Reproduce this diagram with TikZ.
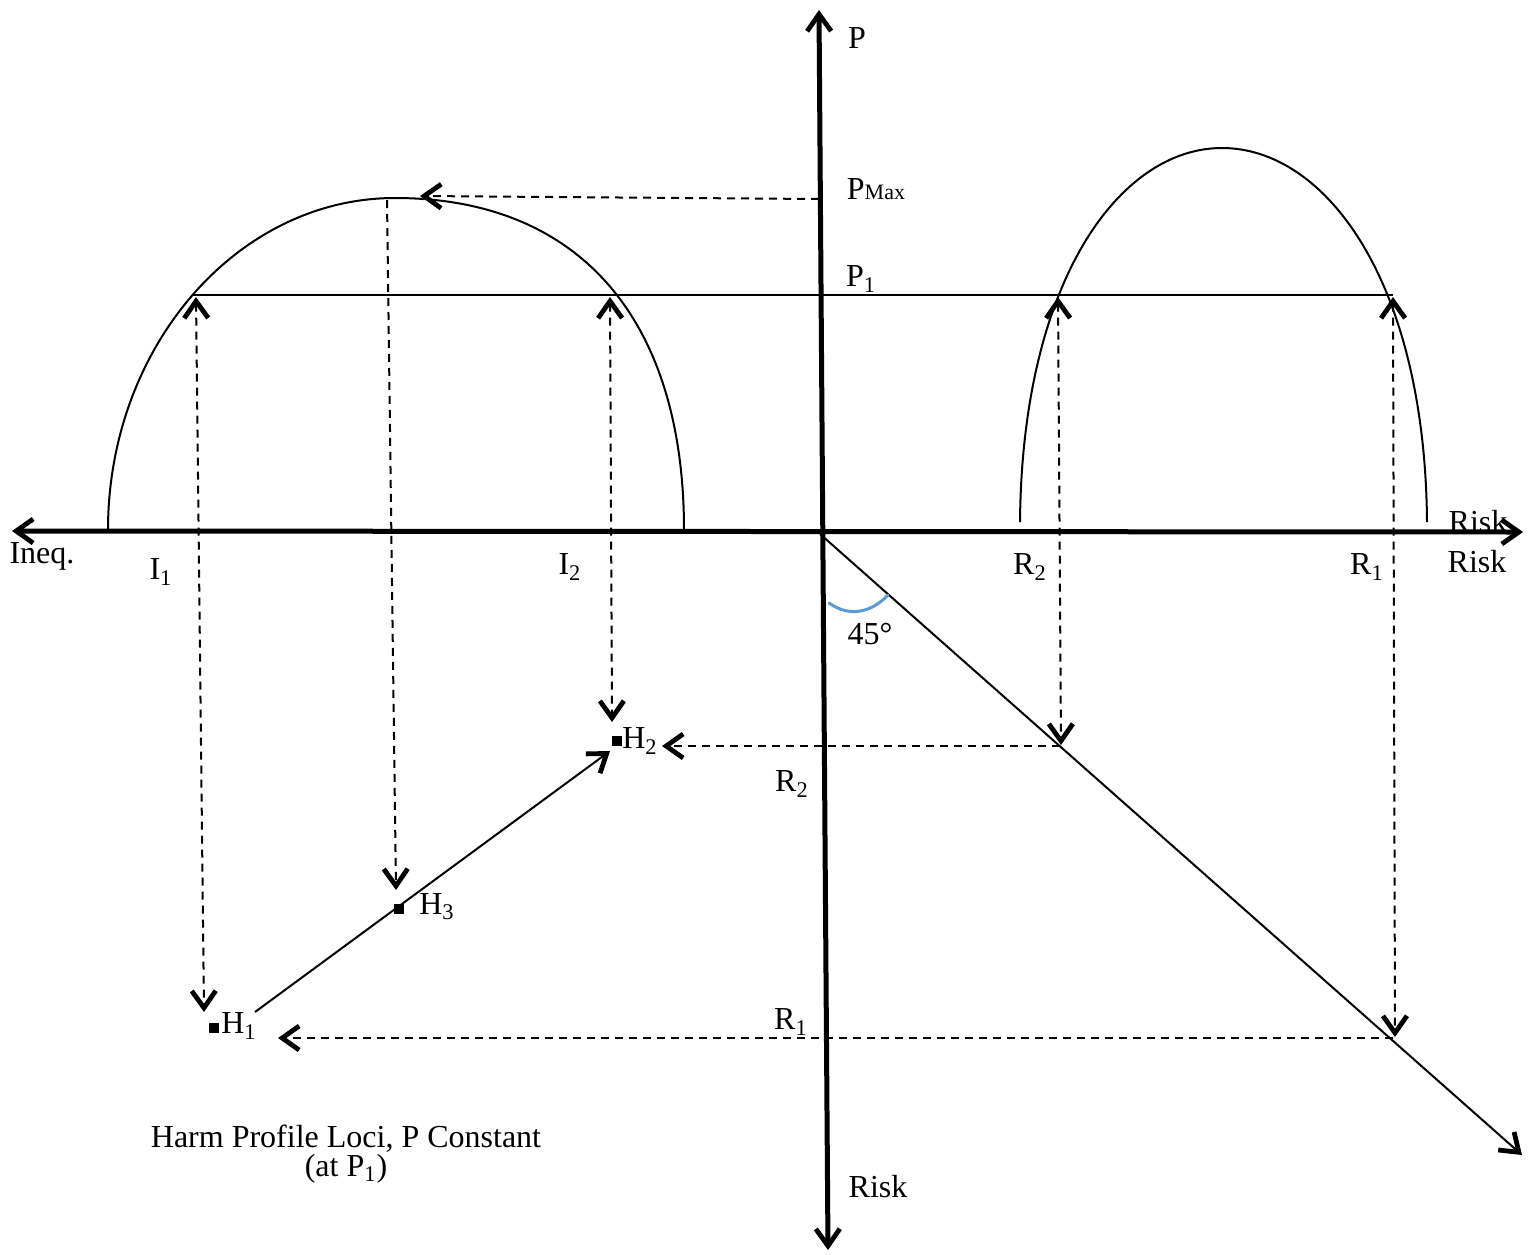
\documentclass[tikz,border=0pt]{standalone}
\usepackage{fontspec}
\setmainfont{Liberation Serif}
\usetikzlibrary{arrows.meta}
\definecolor{AngleBlue}{RGB}{91,155,213}

\begin{document}
\begin{tikzpicture}[x=.5pt,y=.5pt,
  >={Straight Barb[length=8.5pt,width=12pt,line width=2.4pt]},
  every node/.style={font=\fontsize{16}{19}\selectfont,inner sep=0pt},
  axisline/.style={line width=2.5pt,<->},
  curve/.style={line width=1pt},
  guide/.style={line width=1pt,dash pattern=on 4pt off 3pt},
  locus/.style={fill=black,minimum size=5pt,inner sep=0pt}]
  \useasboundingbox (0,0) rectangle (1536,-1254);
  % label hidden under the risk axis
  \node (riskhid) at (1478,-522) {Risk};
  % axes
  \coordinate (ptop) at (819,-10);
  \coordinate (pbot) at (828,-1250);
  \coordinate (ineqend) at (12,-531);
  \coordinate (riskend) at (1523,-532);
  \coordinate (o) at (820,-534);
  \coordinate (diagend) at (1522,-1155);
  \draw[axisline] (pbot) -- (ptop);
  \draw[axisline] (ineqend) -- (riskend);
  \draw[curve,->] (o) -- (diagend);
  \draw[AngleBlue,line width=1.5pt,line cap=round] (829,-603) .. controls (850,-618) and (872,-612) .. (888,-595);
  % profile curves
  \draw[curve] (108,-530) .. controls (108,-347) and (237,-198) .. (395,-198)
    .. controls (580,-198) and (684,-320) .. (684,-530);
  \draw[curve] (1020,-522) .. controls (1022,-280) and (1120,-148) .. (1222,-148)
    .. controls (1325,-148) and (1425,-280) .. (1427,-522);
  \draw[line width=.75pt] (193,-295) -- (1393,-295);
  % guides
  \coordinate (i1top) at (196,-297);
  \coordinate (h1tip) at (204,-1012);
  \coordinate (i2top) at (610,-297);
  \coordinate (h2tip) at (612,-722);
  \coordinate (r2top) at (1058,-297);
  \coordinate (r2cut) at (1061,-745);
  \coordinate (r1top) at (1393,-297);
  \coordinate (r1cut) at (1395,-1037);
  \coordinate (pmaxcut) at (819,-199);
  \coordinate (maxtip) at (420,-196);
  \coordinate (maxtop) at (387,-200);
  \coordinate (h3tip) at (396,-890);
  \coordinate (h2side) at (662,-746);
  \coordinate (h1side) at (278,-1038);
  \draw[guide,<->] (i1top) -- (h1tip);
  \draw[guide,<->] (i2top) -- (h2tip);
  \draw[guide,<->] (r2top) -- (r2cut);
  \draw[guide,<->] (r1top) -- (r1cut);
  \draw[guide,->] (pmaxcut) -- (maxtip);
  \draw[guide,->] (maxtop) -- (h3tip);
  \draw[guide,->] (1060,-746) -- (h2side);
  \draw[guide,->] (1393,-1038) -- (h1side);
  % harm loci
  \node[locus] (h1) at (214,-1028) {};
  \node[locus] (h2) at (617,-741) {};
  \node[locus] (h3) at (399,-909) {};
  \coordinate (h1out) at (255,-1012);
  \coordinate (h2in) at (610,-751);
  \draw[curve,->] (h1out) -- (h2in);
  % labels
  \node (lp) at (857,-38) {P};
  \node (lpmax) at (876,-189) {P{\fontsize{11}{13}\selectfont Max}};
  \node (lp1) at (861,-279) {P\textsubscript{1}};
  \node (lineq) at (42,-556) {Ineq.};
  \node (li1) at (161,-572) {I\textsubscript{1}};
  \node (li2) at (570,-567) {I\textsubscript{2}};
  \node (lr2) at (1030,-567) {R\textsubscript{2}};
  \node (lr1) at (1367,-567) {R\textsubscript{1}};
  \node (lrisk) at (1477,-562) {Risk};
  \node (langle) at (870,-634) {45°};
  \node (lr2low) at (792,-784) {R\textsubscript{2}};
  \node (lr1low) at (791,-1022) {R\textsubscript{1}};
  \node (lriskdown) at (878,-1187) {Risk};
  \node (lh1) at (239,-1026) {H\textsubscript{1}};
  \node (lh2) at (640,-741) {H\textsubscript{2}};
  \node (lh3) at (437,-907) {H\textsubscript{3}};
  \node[align=center,font=\fontsize{16}{13}\selectfont] (caption) at (346,-1154) {Harm Profile Loci, P Constant\\(at P\textsubscript{1})};
\end{tikzpicture}
\end{document}
